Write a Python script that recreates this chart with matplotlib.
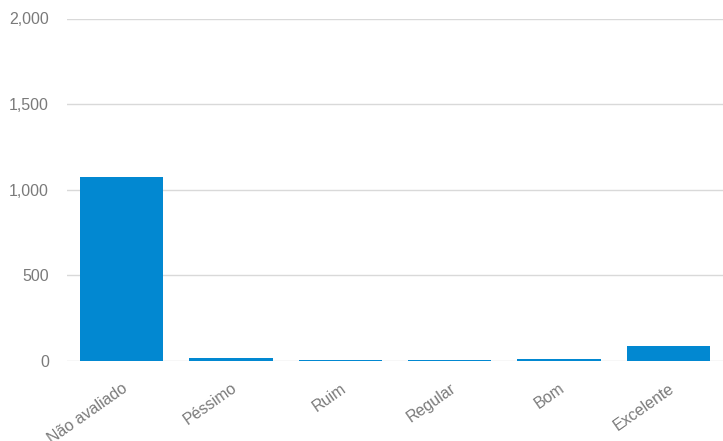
import matplotlib
matplotlib.use("Agg")
import matplotlib.pyplot as plt
from matplotlib.ticker import FuncFormatter

categories = ["Não avaliado", "Péssimo", "Ruim", "Regular", "Bom", "Excelente"]
values = [1075, 17, 5, 5, 12, 88]
yticks = [0, 500, 1000, 1500, 2000]

plt.rcParams['font.family'] = ['Liberation Sans', 'DejaVu Sans']

fig = plt.figure(figsize=(7.23, 4.41), dpi=100)
ax = fig.add_axes([67/723, 1 - 361/441, 1 - 67/723, (361 - 18.5)/441])

x = list(range(len(categories)))
ax.bar(x, values, width=0.76, color="#0288D1", zorder=3)
ax.set_xlim(-0.5, len(categories) - 0.5)
ax.set_ylim(0, 2000)
ax.set_yticks(yticks)
ax.yaxis.set_major_formatter(FuncFormatter(lambda v, p: f"{int(v):,}"))
ax.grid(axis='y', color="#d9d9d9", linewidth=1, zorder=0)
for s in ax.spines.values():
    s.set_visible(False)
ax.tick_params(axis='both', length=0, colors="#7a7a7a", labelsize=11.5)
ax.tick_params(axis='y', pad=13)
ax.set_xticks(x)
ax.set_xticklabels(categories, rotation=35, ha='right', va='top', rotation_mode='anchor')
ax.tick_params(axis='x', pad=14)

fig.savefig("out.png", dpi=100)
